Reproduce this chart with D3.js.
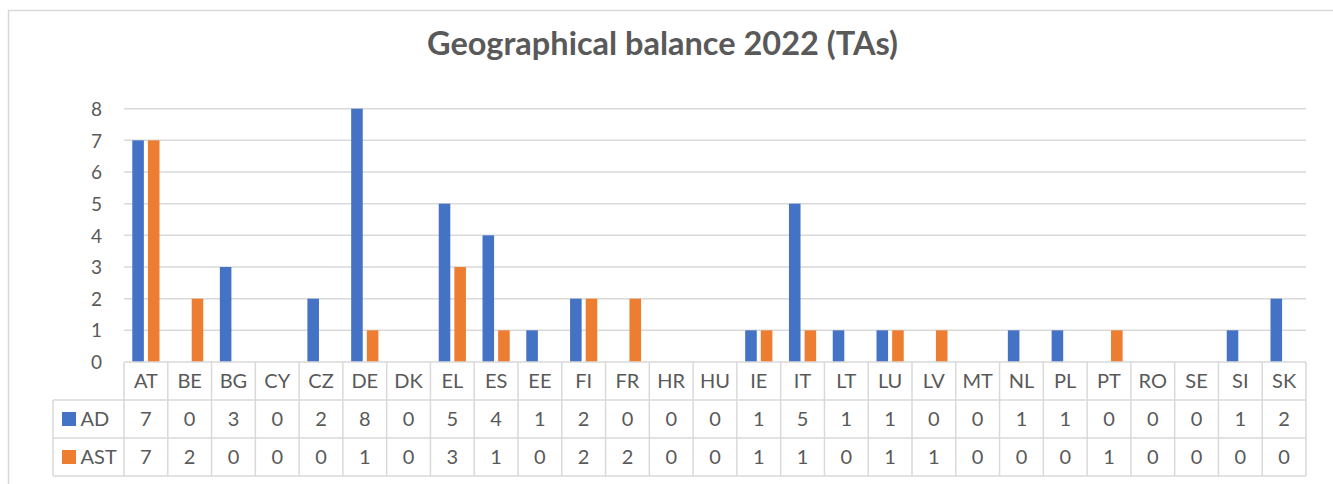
<!DOCTYPE html>
<html>
<head>
<meta charset="utf-8">
<script src="https://cdn.jsdelivr.net/npm/d3@7"></script>
<style>
  html, body { margin: 0; padding: 0; background: #fff; }
  svg { display: block; }
  text { font-family: Lato, "Open Sans", sans-serif; fill: #595959; }
</style>
</head>
<body>
<svg id="chart" width="1333" height="484"></svg>
<script>
const title = "Geographical balance 2022 (TAs)";
const categories = ["AT","BE","BG","CY","CZ","DE","DK","EL","ES","EE","FI","FR","HR","HU","IE","IT","LT","LU","LV","MT","NL","PL","PT","RO","SE","SI","SK"];
const seriesNames = ["AD", "AST"];
const adValues  = [7,0,3,0,2,8,0,5,4,1,2,0,0,0,1,5,1,1,0,0,1,1,0,0,0,1,2];
const astValues = [7,2,0,0,0,1,0,3,1,0,2,2,0,0,1,1,0,1,1,0,0,0,1,0,0,0,0];
const yTicks = [0,1,2,3,4,5,6,7,8];
const colors = ["#4472C4", "#ED7D31"];

const series = [adValues, astValues];
const svg = d3.select("#chart");
const gridColor = "#d9d9d9";

// outer chart border
svg.append("rect")
  .attr("x", 8.5).attr("y", 10.5).attr("width", 1400).attr("height", 600)
  .attr("fill", "none").attr("stroke", gridColor).attr("stroke-width", 1.5);

// title
svg.append("text")
  .attr("x", 662.5).attr("y", 55)
  .attr("text-anchor", "middle")
  .style("font-size", "32.5px").style("font-weight", "bold")
  .text(title);

const plotLeft = 124, plotRight = 1306, plotTop = 108.7, plotBottom = 362;

const x = d3.scaleBand().domain(categories).range([plotLeft, plotRight]).paddingInner(0).paddingOuter(0);
const xs = d3.scaleBand().domain(seriesNames).range([0, x.bandwidth()]).paddingInner(0.26).paddingOuter(0.53);
const y = d3.scaleLinear().domain([0, 8]).range([plotBottom, plotTop]);

// gridlines
svg.append("g").selectAll("line").data(yTicks.filter(d => d > 0)).join("line")
  .attr("x1", plotLeft).attr("x2", plotRight)
  .attr("y1", d => y(d)).attr("y2", d => y(d))
  .attr("stroke", gridColor).attr("stroke-width", 1.5);

// y axis
const yAxis = svg.append("g")
  .attr("transform", `translate(${plotLeft - 22},0)`)
  .call(d3.axisLeft(y).tickValues(yTicks).tickSize(0).tickPadding(0).tickFormat(d3.format("d")));
yAxis.select(".domain").remove();
yAxis.selectAll("text").style("font-size", "19px").style("font-family", "Lato, sans-serif").attr("fill", "#595959").attr("dy", "0.35em");

// bars
seriesNames.forEach((name, si) => {
  svg.append("g").selectAll("rect").data(categories).join("rect")
    .attr("x", c => x(c) + xs(name))
    .attr("width", xs.bandwidth())
    .attr("y", (c, i) => y(series[si][i]))
    .attr("height", (c, i) => y(0) - y(series[si][i]))
    .attr("fill", colors[si]);
});

// data table
const rowTop = [plotBottom, 400, 438, 476];
const legendLeft = 53;
const tbl = svg.append("g");
tbl.append("line").attr("x1", plotLeft).attr("x2", plotRight).attr("y1", rowTop[0]).attr("y2", rowTop[0]);
[1, 2, 3].forEach(r => {
  tbl.append("line").attr("x1", legendLeft).attr("x2", plotRight).attr("y1", rowTop[r]).attr("y2", rowTop[r]);
});
tbl.append("line").attr("x1", legendLeft).attr("x2", legendLeft).attr("y1", rowTop[1]).attr("y2", rowTop[3]);
tbl.selectAll("line.v").data(categories.concat(["_end"])).join("line").attr("class", "v")
  .attr("x1", (c, i) => plotLeft + i * x.step()).attr("x2", (c, i) => plotLeft + i * x.step())
  .attr("y1", rowTop[0]).attr("y2", rowTop[3]);
tbl.selectAll("line").attr("stroke", gridColor).attr("stroke-width", 1.5);

// category labels
svg.append("g").selectAll("text").data(categories).join("text")
  .attr("x", c => x(c) + x.bandwidth() / 2)
  .attr("y", (rowTop[0] + rowTop[1]) / 2)
  .attr("dy", "0.35em").attr("text-anchor", "middle")
  .style("font-size", "20px").text(c => c);

// series rows
seriesNames.forEach((name, si) => {
  const cy = (rowTop[si + 1] + rowTop[si + 2]) / 2;
  svg.append("rect").attr("x", 62).attr("y", cy - 7).attr("width", 14).attr("height", 14).attr("fill", colors[si]);
  svg.append("text").attr("x", 80.5).attr("y", cy).attr("dy", "0.35em")
    .style("font-size", "20px").text(name);
  svg.append("g").selectAll("text").data(series[si]).join("text")
    .attr("x", (v, i) => x(categories[i]) + x.bandwidth() / 2)
    .attr("y", cy).attr("dy", "0.35em").attr("text-anchor", "middle")
    .style("font-size", "20px").text(v => v);
});
</script>
</body>
</html>
